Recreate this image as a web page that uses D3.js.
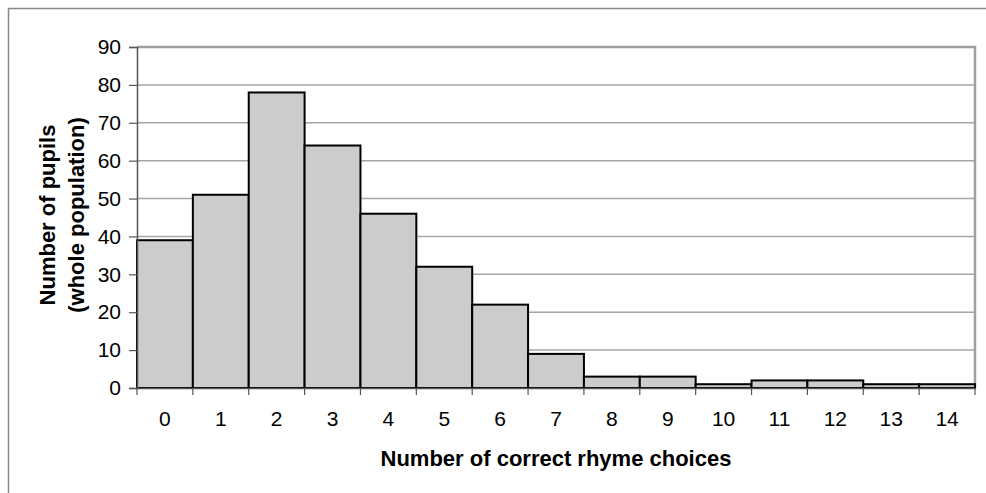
<!DOCTYPE html>
<html><head><meta charset="utf-8">
<script src="https://cdn.jsdelivr.net/npm/d3@7"></script>
<style>body{margin:0;background:#fff}svg{display:block}</style>
</head><body>
<script>
const categories = ["0","1","2","3","4","5","6","7","8","9","10","11","12","13","14"];
const values = [39,51,78,64,46,32,22,9,3,3,1,2,2,1,1];
const yTicks = [0,10,20,30,40,50,60,70,80,90];
const xTitle = "Number of correct rhyme choices";
const yTitle = ["Number of pupils","(whole population)"];

const W=986,H=493;
const svg=d3.select("body").append("svg").attr("width",W).attr("height",H);
const font="'Liberation Sans', Arial, sans-serif";
// outer frame
svg.append("path").attr("d",`M8.5,493 V8.5 H986`).attr("fill","none").attr("stroke","#888").attr("stroke-width",1.5);

const L=137,R=975,T=47,B=388;
const x=d3.scaleBand().domain(categories).range([L,R]).padding(0);
const y=d3.scaleLinear().domain([0,90]).range([B,T]);

// gridlines
svg.append("g").selectAll("line").data(yTicks.filter(d=>d>0)).join("line")
 .attr("x1",L).attr("x2",R).attr("y1",d=>y(d)).attr("y2",d=>y(d))
 .attr("stroke","#a6a6a6").attr("stroke-width",1.5);
// plot border top/right
svg.append("path").attr("d",`M${L},${T} H${R} V${B}`).attr("fill","none").attr("stroke","#a0a0a0").attr("stroke-width",2.5);

// bars
svg.append("g").selectAll("rect").data(values).join("rect")
 .attr("x",(d,i)=>x(categories[i])).attr("width",x.bandwidth())
 .attr("y",d=>y(d)).attr("height",d=>B-y(d))
 .attr("fill","#cccccc").attr("stroke","#000").attr("stroke-width",2);

// y axis
const ya=svg.append("g").attr("transform",`translate(${L},0)`)
 .call(d3.axisLeft(y).tickValues(yTicks).tickSize(8).tickPadding(8));
ya.attr("font-size",null).attr("font-family",null);
ya.select(".domain").attr("stroke","#555").attr("stroke-width",1.5);
ya.selectAll(".tick line").attr("stroke","#555").attr("stroke-width",1.2);
ya.selectAll("text").style("font-family",font).style("font-size","21px").attr("fill","#000");

// x axis
const xa=svg.append("g").attr("transform",`translate(0,${B})`)
 .call(d3.axisBottom(x).tickSize(0).tickPadding(20));
xa.attr("font-size",null).attr("font-family",null);
xa.select(".domain").attr("stroke","#555").attr("stroke-width",1.5);
xa.selectAll("text").style("font-family",font).style("font-size","21px").attr("fill","#000").attr("dy","0.75em").attr("y",22);
// boundary ticks
const bounds=categories.map(c=>x(c)).concat([R]);
svg.append("g").selectAll("line").data(bounds).join("line")
 .attr("x1",d=>d).attr("x2",d=>d).attr("y1",B).attr("y2",B+7)
 .attr("stroke","#555").attr("stroke-width",1.2);

// titles
svg.append("text").attr("x",(L+R)/2).attr("y",466).attr("text-anchor","middle")
 .style("font-family",font).style("font-size","22px").attr("font-weight","bold").text(xTitle);
const yt=svg.append("text").attr("transform","translate(0,215) rotate(-90)")
 .attr("text-anchor","middle").style("font-family",font).style("font-size","22px").attr("font-weight","bold");
yt.append("tspan").attr("x",0).attr("y",55).text(yTitle[0]);
yt.append("tspan").attr("x",0).attr("y",84).text(yTitle[1]);
</script>
</body></html>
